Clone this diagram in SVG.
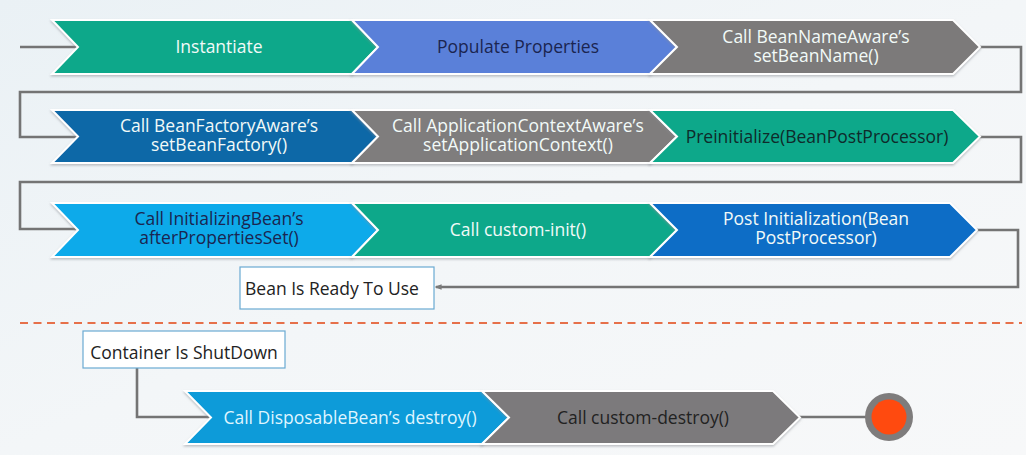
<svg xmlns="http://www.w3.org/2000/svg" width="1026" height="455" viewBox="0 0 1026 455">
  <defs>
    <linearGradient id="bg" x1="0" y1="0" x2="1" y2="1">
      <stop offset="0" stop-color="#eaf1f5"/>
      <stop offset="0.5" stop-color="#f3f6f8"/>
      <stop offset="1" stop-color="#f7f8f9"/>
    </linearGradient>
    <filter id="shadow" x="-5%" y="-20%" width="110%" height="150%">
      <feDropShadow dx="0" dy="1.5" stdDeviation="1" flood-color="#8a8f94" flood-opacity="0.55"/>
    </filter>
    <marker id="arrow" viewBox="0 0 10 10" refX="8" refY="5" markerWidth="7" markerHeight="7" orient="auto-start-reverse" markerUnits="userSpaceOnUse">
      <path d="M0,1 L10,5 L0,9 z" fill="#7a7a7a"/>
    </marker>
    <style>
      .chev { stroke: #ffffff; stroke-width: 2; stroke-linejoin: miter; filter: url(#shadow); }
      .lbl { font-family: "Open Sans", "Liberation Sans", sans-serif; font-size: 17.5px; text-anchor: middle; }
      .light { fill: #f2faf8; }
      .dark { fill: #1b2550; }
      .black { fill: #222222; }
      .green { fill: #10a88a; }
      .gray { fill: #7c7a7a; }
      .conn { fill: none; stroke: #747474; stroke-width: 2.6; stroke-linejoin: miter; }
      .box { fill: #ffffff; stroke: #6aaad2; stroke-width: 1.2; }
    </style>
  </defs>

  <rect width="1026" height="455" fill="url(#bg)"/>

  <!-- connectors -->
  <g id="connectors">
    <path class="conn" d="M20,47 H80"/>
    <path class="conn" d="M978,47 H1021 V92 H20 V137 H80"/>
    <path class="conn" d="M978,137 H1021 V182 H20 V229 H80"/>
    <path class="conn" d="M976,230 H1018 V287 H436" marker-end="url(#arrow)"/>
    <path class="conn" d="M137,368 V417 H210"/>
    <path class="conn" d="M798,417 H866"/>
    <path d="M20,323 H1022" fill="none" stroke="#e6704a" stroke-width="2" stroke-dasharray="8,5.5"/>
  </g>

  <!-- row 1 -->
  <g id="instantiate">
    <polygon class="chev green" points="52,20 352,20 378,47 352,74 52,74 78,47"/>
    <text class="lbl light" x="219" y="53">Instantiate</text>
  </g>
  <g id="populate-properties">
    <polygon class="chev" fill="#5a80d9" points="352,20 650,20 677,47 650,74 352,74 378,47"/>
    <text class="lbl dark" x="518" y="53">Populate Properties</text>
  </g>
  <g id="bean-name-aware">
    <polygon class="chev gray" points="650,20 953,20 980,47 953,74 650,74 677,47"/>
    <text class="lbl light" x="816"><tspan x="816" y="43">Call BeanNameAware’s</tspan><tspan x="816" y="62">setBeanName()</tspan></text>
  </g>

  <!-- row 2 -->
  <g id="bean-factory-aware">
    <polygon class="chev" fill="#1167a7" points="52,110 352,110 378,136.5 352,163 52,163 78,136.5"/>
    <text class="lbl light" x="219"><tspan x="219" y="132">Call BeanFactoryAware’s</tspan><tspan x="219" y="151">setBeanFactory()</tspan></text>
  </g>
  <g id="application-context-aware">
    <polygon class="chev" fill="#7f7d7d" points="352,110 650,110 677,136.5 650,163 352,163 378,136.5"/>
    <text class="lbl light" x="518"><tspan x="518" y="132">Call ApplicationContextAware’s</tspan><tspan x="518" y="151">setApplicationContext()</tspan></text>
  </g>
  <g id="preinitialize">
    <polygon class="chev green" points="650,110 953,110 980,136.5 953,163 650,163 677,136.5"/>
    <text class="lbl" fill="#0f2b2b" x="817" y="142.5">Preinitialize(BeanPostProcessor)</text>
  </g>

  <!-- row 3 -->
  <g id="initializing-bean">
    <polygon class="chev" fill="#08aaea" points="52,203 352,203 378,230 352,257 52,257 78,230"/>
    <text class="lbl dark" x="219"><tspan x="219" y="225">Call InitializingBean’s</tspan><tspan x="219" y="244">afterPropertiesSet()</tspan></text>
  </g>
  <g id="custom-init">
    <polygon class="chev green" points="352,203 650,203 677,230 650,257 352,257 378,230"/>
    <text class="lbl light" x="518" y="236">Call custom-init()</text>
  </g>
  <g id="post-initialization">
    <polygon class="chev" fill="#0a6dc6" points="650,203 950,203 977,230 950,257 650,257 677,230"/>
    <text class="lbl light" x="816"><tspan x="816" y="225">Post Initialization(Bean</tspan><tspan x="816" y="244">PostProcessor)</tspan></text>
  </g>

  <!-- status boxes -->
  <g id="bean-ready">
    <rect class="box" x="240" y="267" width="194" height="42"/>
    <text class="lbl black" x="332" y="295">Bean Is Ready To Use</text>
  </g>
  <g id="container-shutdown">
    <rect class="box" x="83" y="331" width="202" height="37"/>
    <text class="lbl black" x="184" y="359">Container Is ShutDown</text>
  </g>

  <!-- destruction -->
  <g id="disposable-bean">
    <polygon class="chev" fill="#0a9bd9" points="185,391 482,391 509,417.5 482,444 185,444 211,417.5"/>
    <text class="lbl" fill="#dff5ff" x="350" y="423.5">Call DisposableBean’s destroy()</text>
  </g>
  <g id="custom-destroy">
    <polygon class="chev" fill="#7c7a7b" points="482,391 773,391 800,417.5 773,444 482,444 509,417.5"/>
    <text class="lbl black" x="643" y="423.5">Call custom-destroy()</text>
  </g>
  <g id="end">
    <circle cx="889" cy="417" r="24" fill="#7e7c7c"/>
    <circle cx="889" cy="417" r="17.5" fill="#ff4a0f"/>
  </g>
</svg>
